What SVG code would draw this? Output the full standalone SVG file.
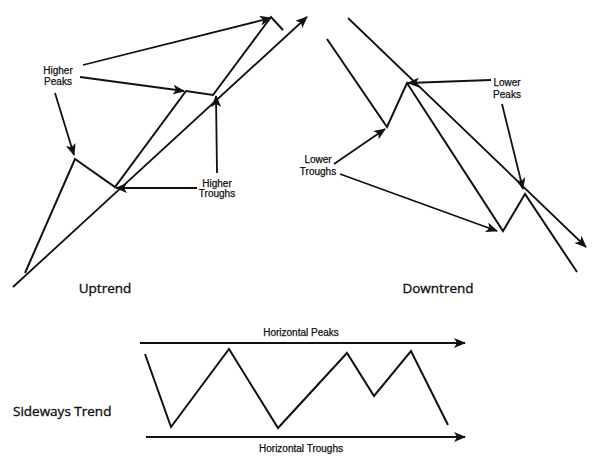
<svg xmlns="http://www.w3.org/2000/svg" width="606" height="475" viewBox="0 0 606 475">
<defs>
<marker id="ah" markerWidth="12" markerHeight="10" refX="11" refY="5" orient="auto" markerUnits="userSpaceOnUse">
<path d="M0,0 L12,5 L0,10 L3,5 Z" fill="#111"/>
</marker>
</defs>
<style>
.ln{fill:none;stroke:#111;stroke-width:2;stroke-linejoin:miter;stroke-linecap:butt}
.ar{fill:none;stroke:#111;stroke-width:1.8;marker-end:url(#ah)}
.lb{font-family:"Liberation Sans",Arial,sans-serif;font-size:10px;fill:#111;stroke:#111;stroke-width:0.25;text-anchor:middle}
.tt{font-family:"Open Sans","Noto Sans",sans-serif;font-size:13.5px;fill:#111;stroke:#111;stroke-width:0.35}
</style>
<rect width="606" height="475" fill="#fff"/>
<g id="uptrend">
<polyline class="ln" points="25,273 75,159 115,187 186,91 213,95 271,17 283,30"/>
<text class="tt" x="105" y="293" text-anchor="middle">Uptrend</text>
</g>
<g id="higher-peaks">
<text class="lb" x="58" y="74">Higher</text>
<text class="lb" x="58" y="85">Peaks</text>
</g>
<g id="higher-troughs">
<text class="lb" x="217" y="187">Higher</text>
<text class="lb" x="217" y="197">Troughs</text>
</g>
<g id="downtrend">
<polyline class="ln" points="327,39 387,127 407,83 503,231 525,194 577,272"/>
<text class="tt" x="438" y="293" text-anchor="middle">Downtrend</text>
</g>
<g id="lower-peaks">
<text class="lb" x="507" y="86">Lower</text>
<text class="lb" x="507" y="98">Peaks</text>
</g>
<g id="lower-troughs">
<text class="lb" x="318" y="163">Lower</text>
<text class="lb" x="318" y="175">Troughs</text>
</g>
<g id="sideways">
<polyline class="ln" points="145,354 171,427 229,349 278,428 347,353 374,396 411,351 448,425"/>
<text class="tt" x="13" y="416">Sideways Trend</text>
</g>
<g id="horizontal-peaks">
<text class="lb" x="301" y="336">Horizontal Peaks</text>
</g>
<g id="horizontal-troughs">
<text class="lb" x="301" y="452">Horizontal Troughs</text>
</g>
<g id="connectors">
<line class="ar" x1="13" y1="287" x2="307" y2="17"/>
<line class="ar" x1="83" y1="65" x2="271" y2="18"/>
<line class="ar" x1="80" y1="77" x2="184" y2="91"/>
<line class="ar" x1="55" y1="93" x2="74" y2="155"/>
<line class="ar" x1="197" y1="188" x2="116" y2="188"/>
<line class="ar" x1="217" y1="173" x2="216" y2="96"/>
<line class="ar" x1="348" y1="18" x2="586" y2="247"/>
<line class="ar" x1="491" y1="80" x2="408" y2="83"/>
<line class="ar" x1="502" y1="104" x2="523" y2="189"/>
<line class="ar" x1="334" y1="164" x2="385" y2="129"/>
<line class="ar" x1="340" y1="174" x2="497" y2="231"/>
<line class="ar" x1="140" y1="343" x2="465" y2="343"/>
<line class="ar" x1="146" y1="437" x2="465" y2="437"/>
</g>
</svg>
